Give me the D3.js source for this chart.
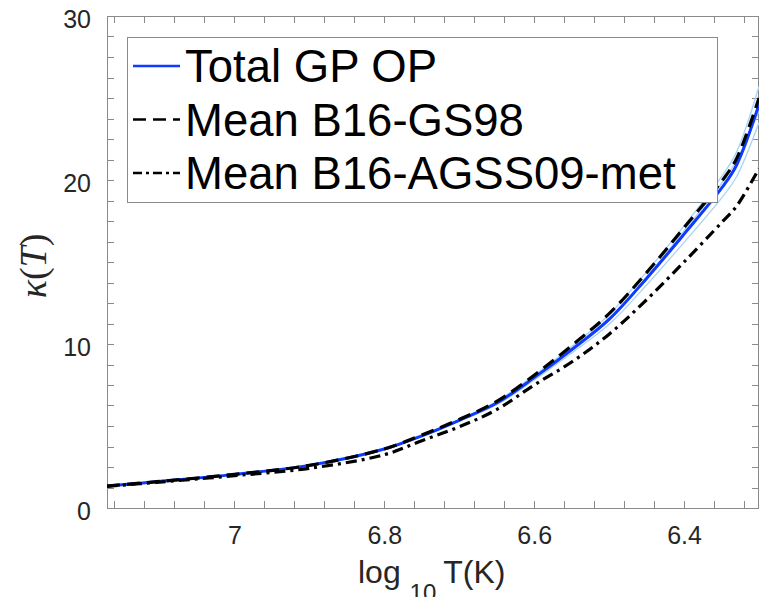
<!DOCTYPE html>
<html>
<head>
<meta charset="utf-8">
<script src="https://cdn.jsdelivr.net/npm/d3@7"></script>
<style>
  body { margin: 0; background: #fff; }
  svg { display: block; }
</style>
</head>
<body>
<div id="chart"></div>
<script>
// log10 T values (x axis is reversed)
const logT = [7.17, 7.1, 7.0, 6.9, 6.8, 6.75, 6.7, 6.65, 6.6, 6.55, 6.5, 6.45, 6.4, 6.35, 6.33, 6.3];

// kappa(T) series
const totalGP   = [1.34, 1.62, 2.05, 2.6, 3.6, 4.4, 5.35, 6.4, 7.95, 9.65, 11.5, 14.0, 16.7, 19.5, 20.9, 24.6];
const meanGS98  = [1.34, 1.62, 2.05, 2.6, 3.6, 4.45, 5.4, 6.5, 8.1, 9.9, 11.85, 14.35, 17.1, 19.9, 21.3, 25.0];
const meanAGSS  = [1.32, 1.58, 1.97, 2.42, 3.25, 4.1, 4.95, 6.0, 7.5, 8.9, 10.6, 12.7, 15.0, 17.4, 18.4, 20.7];
// thin light-blue sample curves around the total
const sampleHi  = [1.34, 1.62, 2.05, 2.6, 3.6, 4.42, 5.4, 6.5, 8.1, 9.85, 11.8, 14.4, 17.2, 20.2, 21.7, 25.7];
const sampleLo  = [1.34, 1.62, 2.05, 2.6, 3.58, 4.35, 5.3, 6.3, 7.8, 9.45, 11.2, 13.6, 16.2, 18.9, 20.2, 23.5];
const sampleMid = [1.34, 1.62, 2.05, 2.6, 3.6, 4.4, 5.35, 6.45, 8.0, 9.75, 11.6, 14.1, 16.9, 19.8, 21.2, 24.2];

const xTicks = [7, 6.8, 6.6, 6.4];
const yTicks = [0, 10, 20, 30];
const legendLabels = ["Total GP OP", "Mean B16-GS98", "Mean B16-AGSS09-met"];

const W = 760, H = 597;
const margin = {top: 16, right: 1, bottom: 89, left: 107};

const svg = d3.select("#chart").append("svg")
    .attr("width", W)
    .attr("height", H);

const x = d3.scaleLinear().domain([7.17, 6.3]).range([margin.left, W - margin.right]);
const y = d3.scaleLinear().domain([0, 30]).range([H - margin.bottom, margin.top]);

const axisColor = "#8a8a8a";
const textColor = "#262626";

// clip for plot area
svg.append("clipPath").attr("id", "clip")
  .append("rect")
    .attr("x", x.range()[0]).attr("y", y.range()[1])
    .attr("width", x.range()[1] - x.range()[0])
    .attr("height", y.range()[0] - y.range()[1]);

// minor ticks every 0.04 on x, 1.25 on y
const xMinor = d3.range(7.16, 6.29, -0.04).map(v => +v.toFixed(2));
const yMinor = d3.range(0, 30.01, 1.25);
const tickLen = 7;

const ticksG = svg.append("g").attr("stroke", axisColor).attr("stroke-width", 1);
xMinor.forEach(v => {
  const px = Math.round(x(v)) + 0.5;
  ticksG.append("line").attr("x1", px).attr("x2", px)
    .attr("y1", y(0)).attr("y2", y(0) - tickLen);
  ticksG.append("line").attr("x1", px).attr("x2", px)
    .attr("y1", y(30)).attr("y2", y(30) + tickLen);
});
yMinor.forEach(v => {
  const py = Math.round(y(v)) + 0.5;
  ticksG.append("line").attr("x1", x.range()[0]).attr("x2", x.range()[0] + tickLen)
    .attr("y1", py).attr("y2", py);
  ticksG.append("line").attr("x1", x.range()[1]).attr("x2", x.range()[1] - tickLen)
    .attr("y1", py).attr("y2", py);
});

// axis box
svg.append("rect")
  .attr("x", x.range()[0] + 0.5).attr("y", y.range()[1] + 0.5)
  .attr("width", x.range()[1] - x.range()[0] - 1)
  .attr("height", y.range()[0] - y.range()[1])
  .attr("fill", "none").attr("stroke", axisColor).attr("stroke-width", 1);

// tick labels via d3 axes
const xAxis = svg.append("g")
  .attr("transform", `translate(0,${y(0)})`)
  .call(d3.axisBottom(x).tickValues(xTicks).tickSize(0).tickPadding(13).tickFormat(d3.format("")));
const yAxis = svg.append("g")
  .attr("transform", `translate(${x.range()[0]},0)`)
  .call(d3.axisLeft(y).tickValues(yTicks).tickSize(0).tickPadding(16));
[xAxis, yAxis].forEach(g => {
  g.select(".domain").remove();
  g.selectAll("text")
    .attr("font-family", "'Liberation Sans', Arial, Helvetica, sans-serif")
    .attr("font-size", 25)
    .attr("fill", textColor);
});
yAxis.selectAll("text").attr("dy", "0.45em");
xAxis.selectAll("text").attr("dy", "0.9em");

// curves
const line = (ys) => d3.line()
  .x((d, i) => x(logT[i]))
  .y(d => y(d))
  .curve(d3.curveCatmullRom.alpha(0.5))(ys);

const plot = svg.append("g").attr("clip-path", "url(#clip)");
[sampleHi, sampleLo, sampleMid].forEach(s => {
  plot.append("path").attr("d", line(s))
    .attr("fill", "none").attr("stroke", "#a9d3f5").attr("stroke-width", 1.3);
});
plot.append("path").attr("d", line(totalGP))
  .attr("fill", "none").attr("stroke", "#0d3bff").attr("stroke-width", 3);
plot.append("path").attr("d", line(meanGS98))
  .attr("fill", "none").attr("stroke", "#000").attr("stroke-width", 3.2)
  .attr("stroke-dasharray", "13,7");
plot.append("path").attr("d", line(meanAGSS))
  .attr("fill", "none").attr("stroke", "#000").attr("stroke-width", 3.2)
  .attr("stroke-dasharray", "11,5,3,5");

// legend
const legend = svg.append("g");
legend.append("rect")
  .attr("x", 127.5).attr("y", 37.5).attr("width", 590).attr("height", 165)
  .attr("fill", "#fff").attr("stroke", axisColor).attr("stroke-width", 1);
const legendStyles = [
  {stroke: "#0d3bff", dash: null},
  {stroke: "#000", dash: "13,7"},
  {stroke: "#000", dash: "9,4,3,4"}
];
legendLabels.forEach((lab, i) => {
  const cy = 66 + i * 53.5;
  legend.append("line")
    .attr("x1", 133).attr("x2", 180).attr("y1", cy).attr("y2", cy)
    .attr("stroke", legendStyles[i].stroke).attr("stroke-width", 2.4)
    .attr("stroke-dasharray", legendStyles[i].dash);
  legend.append("text")
    .attr("x", 185).attr("y", cy + 16)
    .attr("font-family", "'Liberation Sans', Arial, Helvetica, sans-serif")
    .attr("font-size", 45.5)
    .attr("fill", "#000")
    .text(lab);
});

// x label
const xl = svg.append("text")
  .attr("x", 358).attr("y", 583)
  .attr("font-family", "'Liberation Sans', Arial, Helvetica, sans-serif")
  .attr("font-size", 32)
  .attr("fill", textColor);
xl.append("tspan").text("log ");
xl.append("tspan").attr("font-size", 24).attr("dy", 18).text("10");
xl.append("tspan").attr("dy", -18).attr("dx", 7).text("T(K)");

// y label
const yl = svg.append("text")
  .attr("transform", "translate(46,266) rotate(-90)")
  .attr("text-anchor", "middle")
  .attr("font-family", "'Liberation Serif', 'Times New Roman', serif")
  .attr("font-size", 38)
  .attr("fill", textColor);
yl.append("tspan").attr("font-style", "italic").text("κ");
yl.append("tspan").text("(");
yl.append("tspan").attr("font-style", "italic").text("T");
yl.append("tspan").text(")");
</script>
</body>
</html>
